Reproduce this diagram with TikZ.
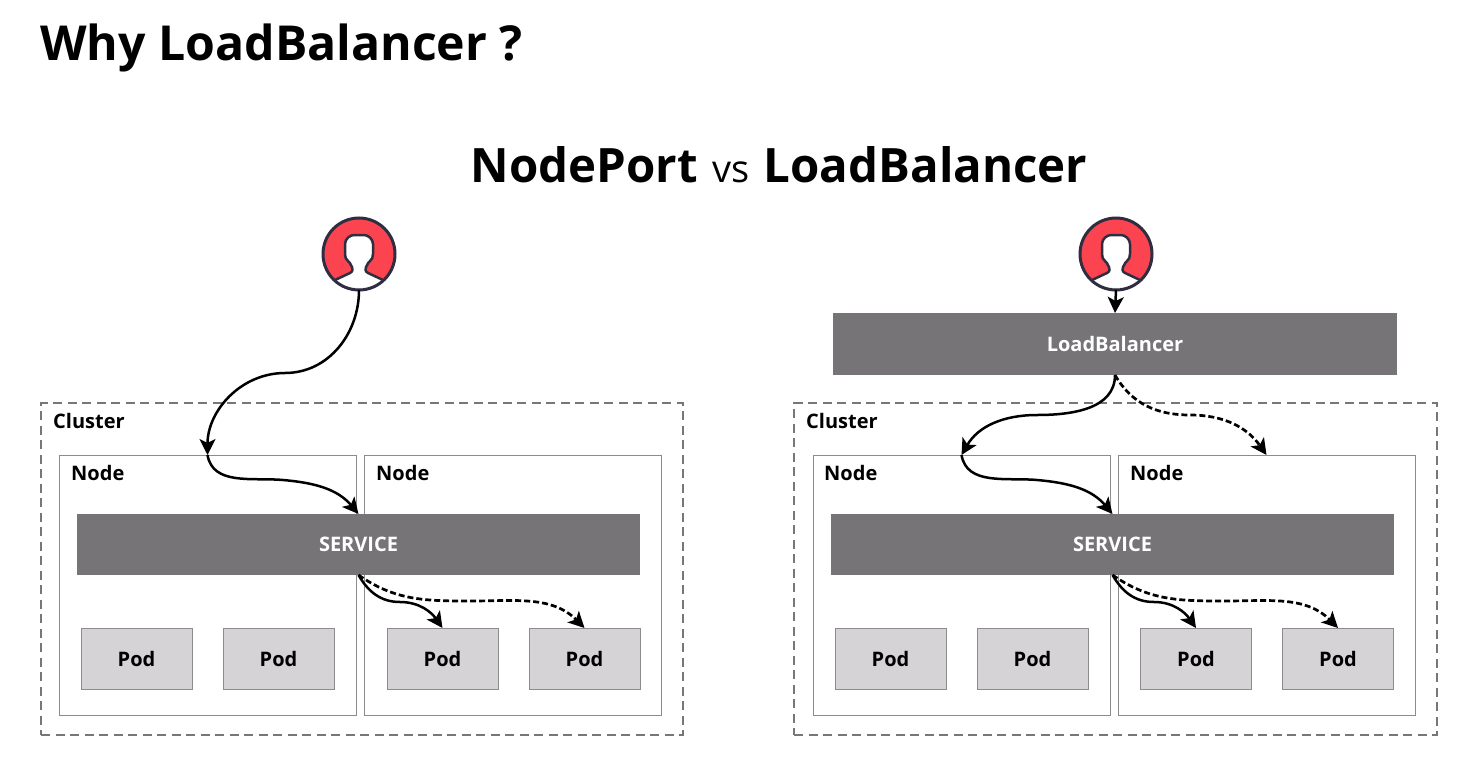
\documentclass[tikz,border=0pt]{standalone}
\usepackage{fontspec}
\setmainfont{Open Sans}
\usetikzlibrary{positioning,arrows.meta}
\definecolor{boxdark}{HTML}{767477}
\definecolor{boxpod}{HTML}{D5D3D6}
\definecolor{edgegray}{HTML}{8C8C8C}
\definecolor{iconred}{HTML}{FB4450}
\definecolor{iconline}{HTML}{2F2E41}
\newcommand{\silhouette}{(-24,26) -- (-9,19) .. controls (-6,17.5) and (-6,15) .. (-7,13)
    .. controls (-9,10) and (-9,8) .. (-11,7) .. controls (-13,6) and (-14,3) .. (-14,0) -- (-14,-10)
    .. controls (-14,-15) and (-9,-19) .. (-5,-19) -- (5,-19) .. controls (9,-19) and (14,-15) .. (14,-10)
    -- (14,0) .. controls (14,3) and (13,6) .. (11,7) .. controls (9,8) and (9,10) .. (7,13)
    .. controls (6,15) and (6,17.5) .. (9,19) -- (24,26)}
\tikzset{
    cluster/.style={rectangle,draw=edgegray!85!black,line width=2.5pt,dash pattern=on 9pt off 5.5pt,minimum width=642pt,minimum height=332pt,inner sep=0pt,outer sep=0pt},
    nodebox/.style={rectangle,draw=edgegray,line width=1pt,minimum width=297pt,minimum height=260pt,inner sep=0pt,outer sep=0pt},
    dark/.style={rectangle,fill=boxdark,text=white,font=\fontsize{20}{24}\selectfont\bfseries,minimum width=563pt,minimum height=61pt,inner sep=0pt,outer sep=0pt},
    pod/.style={rectangle,draw=edgegray,fill=boxpod,line width=1pt,font=\fontsize{20}{24}\selectfont\bfseries,minimum width=111pt,minimum height=61pt,inner sep=0pt,outer sep=0pt},
    tag/.style={anchor=west,inner sep=0pt,font=\fontsize{20}{24}\selectfont\bfseries},
    flow/.style={->,line width=2.5pt},
    flowdash/.style={->,line width=2.7pt,dash pattern=on 6pt off 3pt},
    usericon/.pic={
        \fill[iconred] (0,0) circle (36);
        \fill[white] \silhouette arc[start angle=47,end angle=133,radius=36] -- cycle;
        \fill[black!10] (-22,28) .. controls (-8,36) and (8,36) .. (22,28) arc[start angle=52,end angle=128,radius=36] -- cycle;
        \draw[iconline,line width=2.5pt,line join=round] \silhouette;
        \draw[iconline,line width=3pt] (0,0) circle (36);
    },
}

\begin{document}
\begin{tikzpicture}[>={Stealth[length=16pt,width=16pt,inset=4pt]},x=1pt,y=-1pt]
\useasboundingbox (0,0) rectangle (1458,765);
\node[anchor=west,inner sep=0pt,font=\fontsize{48.2}{60}\selectfont\bfseries] (title) at (40,48) {Why LoadBalancer ?};
\node[inner sep=0pt,font=\fontsize{47.4}{60}\selectfont\bfseries] (subtitle) at (779,165) {NodePort\hspace{2pt} {\fontsize{38}{40}\selectfont\mdseries vs}\hspace{2pt} LoadBalancer};

% NodePort
\pic at (359,254) {usericon};
\coordinate (userL) at (359,290);
\node[cluster] (clusterL) at (362,569) {};
\node[tag] (clusterLtag) at (53,421) {Cluster};
\node[nodebox] (nodeL1) at (207.5,585) {};
\node[nodebox] (nodeL2) [right=8pt of nodeL1] {};
\node[tag] (nodeL1tag) at (71,473) {Node};
\node[tag] (nodeL2tag) at (376,473) {Node};
\node[dark] (serviceL) at (358.5,544.5) {SERVICE};
\node[pod] (podL1) at (136.5,658.5) {Pod};
\node[pod] (podL2) [right=31pt of podL1] {Pod};
\node[pod] (podL3) at (442.5,658.5) {Pod};
\node[pod] (podL4) [right=31pt of podL3] {Pod};
\coordinate (bendL1) at (285,373);
\coordinate (bendL2) at (283,480);
\coordinate (bendL3) at (400,602);
\coordinate (bendL4) at (470,601);
\draw[flow] (userL) to[out=-90,in=0] (bendL1) to[out=180,in=90] (nodeL1.north);
\draw[flow] (nodeL1.north) to[out=-80,in=175] (bendL2) to[out=-5,in=130] (serviceL.north);
\draw[flow] (serviceL.south) to[out=-60,in=180] (bendL3) to[out=0,in=125] (podL3.north);
\draw[flowdash] (serviceL.south) to[out=-35,in=180] (bendL4) to[out=0,in=135] (podL4.north);

% LoadBalancer
\pic at (1116,254) {usericon};
\coordinate (userR) at (1116,290);
\node[dark,minimum width=564pt,minimum height=62pt] (balancer) at (1115,344) {LoadBalancer};
\node[cluster,minimum width=643pt] (clusterR) at (1115.5,569) {};
\node[tag] (clusterRtag) at (806,421) {Cluster};
\node[nodebox] (nodeR1) at (961.5,585) {};
\node[nodebox] (nodeR2) [right=8pt of nodeR1] {};
\node[tag] (nodeR1tag) at (824,473) {Node};
\node[tag] (nodeR2tag) at (1130,473) {Node};
\node[dark] (serviceR) at (1112.5,544.5) {SERVICE};
\node[pod] (podR1) at (890.5,658.5) {Pod};
\node[pod] (podR2) [right=31pt of podR1] {Pod};
\node[pod] (podR3) at (1196,658.5) {Pod};
\node[pod] (podR4) [right=31pt of podR3] {Pod};
\coordinate (bendR1) at (1037,415);
\coordinate (bendR2) at (1190,415);
\coordinate (bendR3) at (1037,480);
\coordinate (bendR4) at (1154,602);
\coordinate (bendR5) at (1224,601);
\draw[flow] (userR) -- (balancer.north);
\draw[flow] (balancer.south) to[out=-90,in=0] (bendR1) to[out=180,in=60] (nodeR1.north);
\draw[flowdash] (balancer.south) to[out=-60,in=180] (bendR2) to[out=0,in=125] (nodeR2.north);
\draw[flow] (nodeR1.north) to[out=-80,in=175] (bendR3) to[out=-5,in=130] (serviceR.north);
\draw[flow] (serviceR.south) to[out=-60,in=180] (bendR4) to[out=0,in=125] (podR3.north);
\draw[flowdash] (serviceR.south) to[out=-35,in=180] (bendR5) to[out=0,in=135] (podR4.north);
\end{tikzpicture}
\end{document}
